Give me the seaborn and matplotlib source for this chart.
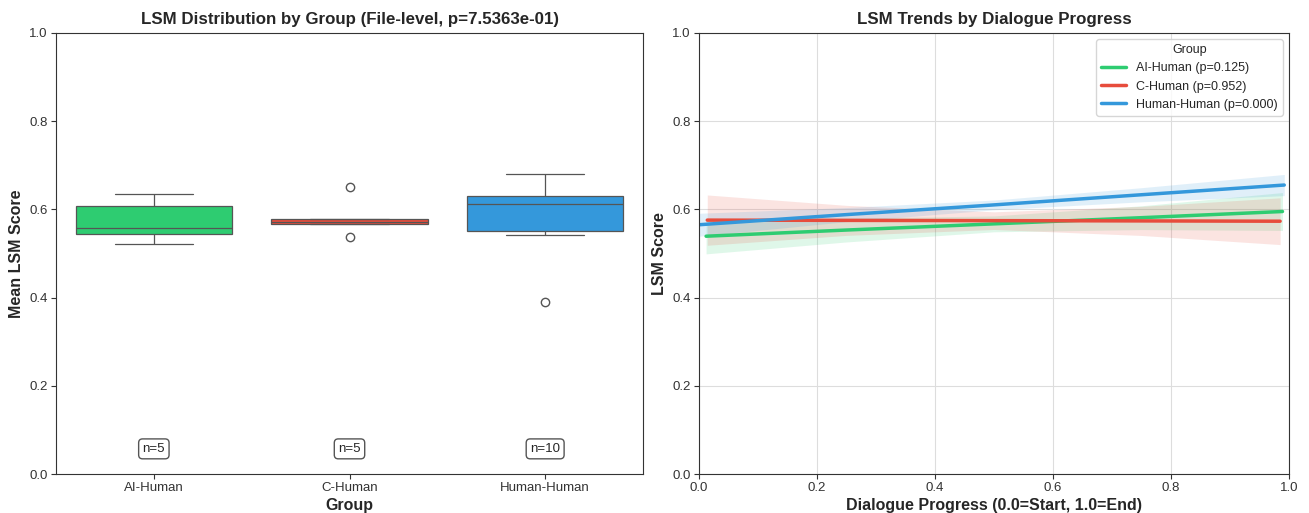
import numpy as np
import pandas as pd
import matplotlib
matplotlib.use("Agg")
import matplotlib.pyplot as plt
import seaborn as sns

sns.set_style("white")
plt.rcParams["font.family"] = ["Liberation Sans", "DejaVu Sans"]
plt.rcParams.update({
    "axes.edgecolor": "#333333",
    "xtick.bottom": True,
    "ytick.left": True,
    "xtick.major.size": 3.5,
    "ytick.major.size": 3.5,
    "xtick.major.pad": 2.5,
    "ytick.major.pad": 2.5,
    "xtick.color": "#333333",
    "ytick.color": "#333333",
})

# ---- data ----
groups = ["AI-Human", "C-Human", "Human-Human"]
colors = ["#2ecc71", "#e74c3c", "#3498db"]

# file-level mean LSM scores per group
ai_human_scores = [0.522, 0.545, 0.557, 0.608, 0.634]
c_human_scores = [0.538, 0.566, 0.571, 0.577, 0.650]
human_human_scores = [0.389, 0.542, 0.549, 0.557, 0.603, 0.620, 0.625, 0.633, 0.648, 0.679]

group_p_value = "7.5363e-01"

# fitted trend over dialogue progress: positions, fitted values, CI half-widths
ai_progress = [0.012, 0.25, 0.5, 0.75, 0.989]
ai_fit = [0.539, 0.553, 0.567, 0.581, 0.595]
ai_ci = [0.040, 0.027, 0.018, 0.027, 0.043]

c_progress = [0.014, 0.25, 0.5, 0.75, 0.985]
c_fit = [0.5755, 0.5749, 0.5743, 0.5737, 0.573]
c_ci = [0.057, 0.034, 0.020, 0.033, 0.053]

hh_progress = [0.0, 0.25, 0.5, 0.75, 0.992]
hh_fit = [0.565, 0.588, 0.610, 0.633, 0.655]
hh_ci = [0.026, 0.016, 0.011, 0.016, 0.024]

trend_p_values = ["0.125", "0.952", "0.000"]

# ---- figure ----
fig = plt.figure(figsize=(13.09, 5.13), dpi=100)
ax1 = fig.add_axes([0.0428, 0.076, 0.4484, 0.860])
ax2 = fig.add_axes([0.534, 0.076, 0.4507, 0.860])

# left: distribution of file-level scores
box_df = pd.DataFrame({
    "Group": (["AI-Human"] * len(ai_human_scores)
              + ["C-Human"] * len(c_human_scores)
              + ["Human-Human"] * len(human_human_scores)),
    "Score": ai_human_scores + c_human_scores + human_human_scores,
})
sns.boxplot(data=box_df, x="Group", y="Score", hue="Group", order=groups,
            hue_order=groups, palette=colors, saturation=1, legend=False,
            width=0.8, linewidth=0.9, linecolor="#555555",
            flierprops=dict(marker="o", markersize=6, markerfacecolor="white",
                            markeredgecolor="#555555"),
            ax=ax1)
counts = [len(ai_human_scores), len(c_human_scores), len(human_human_scores)]
for i, n in enumerate(counts):
    ax1.text(i, 0.057, f"n={n}", ha="center", va="center", fontsize=9.5,
             bbox=dict(boxstyle="round,pad=0.3", fc="white", ec="#555555", lw=1))
ax1.set_ylim(0, 1.0)
ax1.set_title(f"LSM Distribution by Group (File-level, p={group_p_value})",
              fontsize=12.2, fontweight="bold", pad=6)
ax1.set_xlabel("Group", fontsize=11.5, fontweight="bold", labelpad=2.5)
ax1.set_ylabel("Mean LSM Score", fontsize=11.5, fontweight="bold")
ax1.tick_params(labelsize=9.5)

# right: trends across dialogue progress
trend_series = [
    (ai_progress, ai_fit, ai_ci),
    (c_progress, c_fit, c_ci),
    (hh_progress, hh_fit, hh_ci),
]
rows = []
for g, p, (xs, ys, _) in zip(groups, trend_p_values, trend_series):
    for x, y in zip(xs, ys):
        rows.append({"Progress": x, "LSM": y, "Group": f"{g} (p={p})"})
trend_df = pd.DataFrame(rows)
labels = [f"{g} (p={p})" for g, p in zip(groups, trend_p_values)]
sns.lineplot(data=trend_df, x="Progress", y="LSM", hue="Group",
             hue_order=labels, palette=colors, linewidth=2.5, ax=ax2)
for (xs, ys, ci), c in zip(trend_series, colors):
    ys = np.asarray(ys)
    ci = np.asarray(ci)
    ax2.fill_between(xs, ys - ci, ys + ci, color=c, alpha=0.15, linewidth=0)

ax2.set_xlim(0, 1.0)
ax2.set_ylim(0, 1.0)
ax2.grid(True, color="#dddddd", linewidth=0.8)
ax2.set_title("LSM Trends by Dialogue Progress", fontsize=12.2,
              fontweight="bold", pad=6)
ax2.set_xlabel("Dialogue Progress (0.0=Start, 1.0=End)", fontsize=11.5,
               fontweight="bold", labelpad=2.5)
ax2.set_ylabel("LSM Score", fontsize=11.5, fontweight="bold")
ax2.tick_params(labelsize=9.5)
ax2.legend(title="Group", loc="upper right", fontsize=9, title_fontsize=9,
           frameon=True)

fig.savefig("out.png", dpi=100)
